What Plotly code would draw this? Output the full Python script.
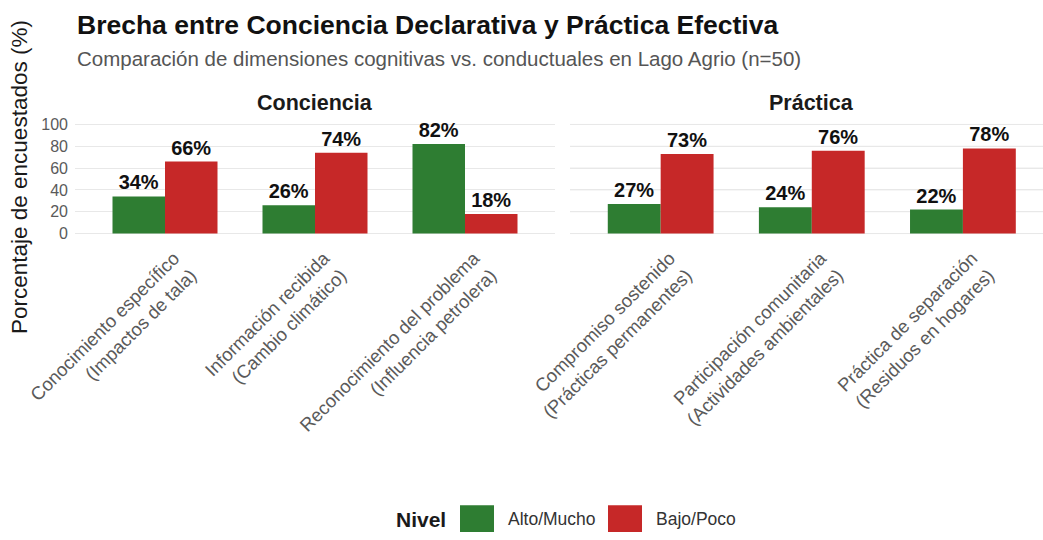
import plotly.graph_objects as go

# ---------------- data ----------------
dims_conciencia = [
    "Conocimiento específico<br>(Impactos de tala)",
    "Información recibida<br>(Cambio climático)",
    "Reconocimiento del problema<br>(Influencia petrolera)",
]
dims_practica = [
    "Compromiso sostenido<br>(Prácticas permanentes)",
    "Participación comunitaria<br>(Actividades ambientales)",
    "Práctica de separación<br>(Residuos en hogares)",
]
alto_conciencia = [34, 26, 82]
bajo_conciencia = [66, 74, 18]
alto_practica = [27, 24, 22]
bajo_practica = [73, 76, 78]

niveles = ["Alto/Mucho", "Bajo/Poco"]
colores = ["#2E7D32", "#C62828"]
facetas = ["Conciencia", "Práctica"]
y_ticks = [0, 20, 40, 60, 80, 100]

title = "Brecha entre Conciencia Declarativa y Práctica Efectiva"
subtitle = "Comparación de dimensiones cognitivas vs. conductuales en Lago Agrio (n=50)"
y_title = "Porcentaje de encuestados (%)"
legend_title = "Nivel"

# ---------------- layout geometry (pixels) ----------------
W, H = 1043, 540
ML, MR, MT, MB = 75, 0, 118.5, 300.5
PW = W - ML - MR
PH = H - MT - MB
FONT = "Liberation Sans, Arial, sans-serif"


def xp(px):
    return (px - ML) / PW


def yp(py):
    return (H - MB - py) / PH


fig = go.Figure()

panels = [
    (dims_conciencia, alto_conciencia, bajo_conciencia, "x", "y"),
    (dims_practica, alto_practica, bajo_practica, "x2", "y"),
]
for dims, alto, bajo, xa, ya in panels:
    for name, vals, col in zip(niveles, [alto, bajo], colores):
        fig.add_trace(go.Bar(
            x=dims, y=vals, name=name, xaxis=xa, yaxis=ya,
            marker=dict(color=col, line=dict(width=0)),
            text=[f"{v}%" for v in vals], textposition="outside",
            textfont=dict(family=FONT, size=20, color="#111111", weight="bold"),
            cliponaxis=False, showlegend=False, offsetgroup=name,
        ))

axis_common = dict(
    showgrid=False, zeroline=False, showline=False, ticks="",
    tickangle=-45, tickfont=dict(family=FONT, size=18.5, color="#5a5a5a"),
    type="category", ticklabelshift=9, ticklabelstandoff=4,
)
fig.update_layout(
    width=W, height=H,
    margin=dict(l=ML, r=MR, t=MT, b=MB, pad=0),
    paper_bgcolor="white", plot_bgcolor="white",
    barmode="group", bargap=0.3, bargroupgap=0,
    showlegend=False,
    font=dict(family=FONT),
    xaxis=dict(domain=[0, xp(555)], range=[-0.6, 2.6], **axis_common),
    xaxis2=dict(domain=[xp(570), 1], range=[-0.6, 2.53], anchor="y", **axis_common),
    yaxis=dict(
        range=[-5, 105], tickvals=y_ticks, showgrid=True, gridcolor="#e8e8e8",
        gridwidth=1, zeroline=False, showline=False, ticks="",
        tickfont=dict(family=FONT, size=16, color="#5a5a5a"),
        ticklabelstandoff=6,
    ),
)

# horizontal gridlines for second panel (shared y, separate x domain)
for v in y_ticks:
    fig.add_shape(type="line", xref="x2 domain", yref="y", x0=0, x1=1, y0=v, y1=v,
                  line=dict(color="#e8e8e8", width=1), layer="below")

ann = []
# title and subtitle
ann.append(dict(text=f"<b>{title}</b>", xref="paper", yref="paper", x=xp(75), y=yp(24),
                xanchor="left", yanchor="middle", showarrow=False,
                font=dict(family=FONT, size=26.5, color="#111111")))
ann.append(dict(text=subtitle, xref="paper", yref="paper", x=xp(75), y=yp(57),
                xanchor="left", yanchor="middle", showarrow=False,
                font=dict(family=FONT, size=20.5, color="#555555")))
# facet strips
for xa, lab in zip(["x", "x2"], facetas):
    ann.append(dict(text=f"<b>{lab}</b>", xref=xa, yref="paper",
                    x=1, y=yp(102), xanchor="center", yanchor="middle", showarrow=False,
                    font=dict(family=FONT, size=21.5, color="#1a1a1a")))
# y-axis title
ann.append(dict(text=y_title, xref="paper", yref="paper", x=xp(19), y=yp(177),
                xanchor="center", yanchor="middle", textangle=-90, showarrow=False,
                font=dict(family=FONT, size=22.5, color="#1a1a1a")))

# custom legend
ann.append(dict(text=f"<b>{legend_title}</b>", xref="paper", yref="paper", x=xp(448),
                y=yp(522), xanchor="right", yanchor="middle", showarrow=False,
                font=dict(family=FONT, size=21, color="#1a1a1a")))
key_x = [460, 608]
for kx, name, col in zip(key_x, niveles, colores):
    fig.add_shape(type="rect", xref="paper", yref="paper",
                  x0=xp(kx), x1=xp(kx + 34), y0=yp(535), y1=yp(508),
                  fillcolor=col, line=dict(width=0))
    ann.append(dict(text=name, xref="paper", yref="paper", x=xp(kx + 46), y=yp(522),
                    xanchor="left", yanchor="middle", showarrow=False,
                    font=dict(family=FONT, size=17.5, color="#333333")))

fig.update_layout(annotations=ann)
fig.write_html("out.html")
